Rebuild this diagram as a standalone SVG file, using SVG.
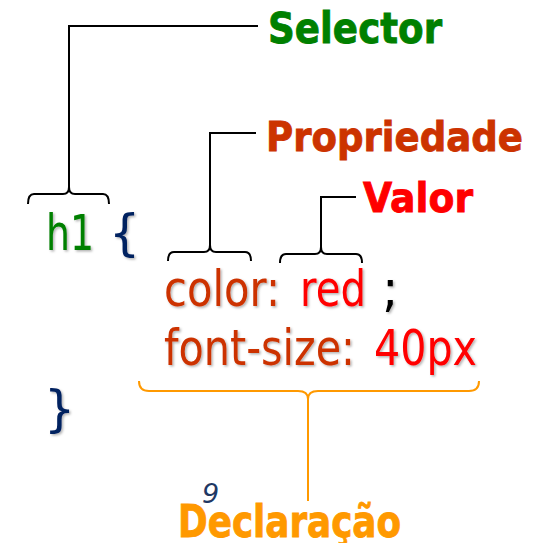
<svg xmlns="http://www.w3.org/2000/svg" width="546" height="543" viewBox="0 0 546 543">
  <defs>
    <filter id="sh" x="-10%" y="-10%" width="130%" height="130%">
      <feDropShadow dx="1.5" dy="1.5" stdDeviation="1" flood-color="#000" flood-opacity="0.3"/>
    </filter>
  </defs>
  <style>
    .lbl { font-family: "DejaVu Sans", Verdana, sans-serif; font-weight: bold; stroke-width: 0.9; }
    .code { font-family: "DejaVu Sans", Verdana, sans-serif; font-size: 49px; filter: url(#sh); }
    .ln { fill: none; stroke: #000; stroke-width: 2; }
    .lno { fill: none; stroke: #ff9900; stroke-width: 2; }
  </style>
  <rect width="546" height="543" fill="#fff"/>

  <g id="connectors">
    <path class="ln" d="M28,204 Q28,194 34,194 L63,194 Q69,194 69,187 Q69,194 75,194 L103,194 Q109,194 109,204"/>
    <polyline class="ln" points="69,188 69,26 258,26"/>
    <path class="ln" d="M168,261 Q168,252 174,252 L204,252 Q210,252 210,245 Q210,252 216,252 L245,252 Q251,252 251,261"/>
    <polyline class="ln" points="210,246 210,133 256,133"/>
    <path class="ln" d="M280,263 Q280,254 286,254 L315,254 Q321,254 321,247 Q321,254 327,254 L356,254 Q362,254 362,263"/>
    <polyline class="ln" points="321,248 321,197 356,197"/>
    <path class="lno" d="M139,381 Q139,391 149,391 L298,391 Q308,391 308,399 Q308,391 318,391 L469,391 Q479,391 479,381"/>
    <line class="lno" x1="308" y1="398" x2="308" y2="501"/>
  </g>

  <g id="selector">
    <text class="lbl" x="268" y="43" font-size="43" fill="#008000" stroke="#008000" textLength="174" lengthAdjust="spacingAndGlyphs">Selector</text>
  </g>
  <g id="propriedade">
    <text class="lbl" x="266" y="151" font-size="41" fill="#cc3300" stroke="#cc3300" textLength="257" lengthAdjust="spacingAndGlyphs">Propriedade</text>
  </g>
  <g id="valor">
    <text class="lbl" x="363" y="212" font-size="41" fill="#ff0000" stroke="#ff0000" textLength="110" lengthAdjust="spacingAndGlyphs">Valor</text>
  </g>

  <g id="code">
    <text class="code" x="46" y="250" fill="#008000" textLength="48" lengthAdjust="spacingAndGlyphs">h1</text>
    <text class="code" x="109" y="250" fill="#002060">{</text>
    <text class="code" x="164" y="306" fill="#cc3300" textLength="116" lengthAdjust="spacingAndGlyphs">color:</text>
    <text class="code" x="300" y="306" fill="#ff0000" textLength="66" lengthAdjust="spacingAndGlyphs">red</text>
    <text class="code" x="382" y="306" fill="#000">;</text>
    <text class="code" x="164" y="365" fill="#cc3300" textLength="191" lengthAdjust="spacingAndGlyphs">font-size:</text>
    <text class="code" x="374" y="365" fill="#ff0000" textLength="103" lengthAdjust="spacingAndGlyphs">40px</text>
    <text class="code" x="44" y="426" fill="#002060">}</text>
  </g>

  <g id="page-number">
    <text x="202" y="503" font-family="DejaVu Sans, sans-serif" font-style="italic" font-size="27" fill="#1f3864">9</text>
  </g>
  <g id="declaracao">
    <text class="lbl" x="178" y="537" font-size="44" fill="#ff9900" stroke="#ff9900" textLength="223" lengthAdjust="spacingAndGlyphs">Declaração</text>
  </g>
</svg>
